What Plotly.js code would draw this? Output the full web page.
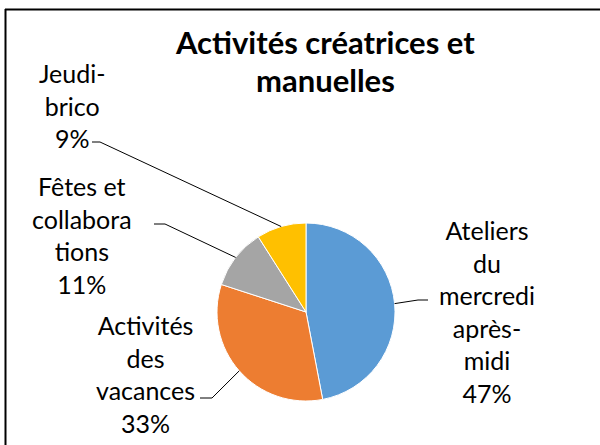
<!DOCTYPE html>
<html>
<head>
<meta charset="utf-8">
<script src="https://cdn.plot.ly/plotly-3.0.1.min.js"></script>
<style>
  body { margin: 0; background: #fff; }
  #chart { width: 600px; height: 445px; }
</style>
</head>
<body>
<div id="chart"></div>
<script>
/* =========================
   DATA
========================= */
const chartTitle = ["Activités créatrices et", "manuelles"];
const categories = ["Ateliers du mercredi après-midi", "Activités des vacances", "Fêtes et collaborations", "Jeudi-brico"];
const shares = [47, 33, 11, 9];
const labelTexts = [
  "Ateliers<br>du<br>mercredi<br>après-<br>midi<br>47%",
  "Activités<br>des<br>vacances<br>33%",
  "Fêtes et<br>collabora<br>tions<br>11%",
  "Jeudi-<br>brico<br>9%"
];
const colors = ["#5B9BD5", "#ED7D31", "#A5A5A5", "#FFC000"];

/* =========================
   LAYOUT HELPERS (pixels)
========================= */
const W = 600, H = 445;
const cx = 306, cy = 312, r = 89;
const px = x => x / W;
const py = y => 1 - y / H;
const FONT = "Lato, 'Open Sans', sans-serif";

// where each label block sits and where its leader line elbows
const labelPos = [
  { x: 487, y: 311, elbow: [[418, 300], [428, 300]] },
  { x: 145, y: 374, elbow: [[212, 398], [200, 398]] },
  { x: 82, y: 235, elbow: [[165, 224], [154, 224]] },
  { x: 72, y: 105, elbow: [[100, 142], [92, 142]] }
];

// slice mid-angles -> anchor points on the pie edge
const total = shares.reduce((a, b) => a + b, 0);
let cum = 0;
const anchors = shares.map(v => {
  const mid = (cum + v / 2) / total * 2 * Math.PI;
  cum += v;
  return [cx + r * Math.sin(mid), cy - r * Math.cos(mid)];
});

const shapes = anchors.map((a, i) => {
  const pts = [a, ...labelPos[i].elbow];
  const d = pts.map((p, k) => (k ? "L" : "M") + px(p[0]) + "," + py(p[1])).join(" ");
  return { type: "path", xref: "paper", yref: "paper", path: d, line: { color: "#000", width: 1 } };
});

// chart frame (only top and left edges visible)
shapes.push({ type: "line", xref: "paper", yref: "paper", x0: px(5), y0: py(9.5), x1: 1, y1: py(9.5), line: { color: "#000", width: 2 } });
shapes.push({ type: "line", xref: "paper", yref: "paper", x0: px(5.5), y0: py(9), x1: px(5.5), y1: 0, line: { color: "#000", width: 2 } });

const annotations = labelTexts.map((t, i) => ({
  xref: "paper", yref: "paper",
  x: px(labelPos[i].x), y: py(labelPos[i].y),
  xanchor: "center", yanchor: "middle",
  text: t, showarrow: false, align: "center",
  font: { family: FONT, size: 25, color: "#000" }
}));

// title, one annotation per line to match the wide line spacing
const titleY = [42, 80];
chartTitle.forEach((t, i) => annotations.push({
  xref: "paper", yref: "paper",
  x: px(325), y: py(titleY[i]),
  xanchor: "center", yanchor: "middle",
  text: "<b>" + t + "</b>", showarrow: false,
  font: { family: FONT, size: 31, color: "#000" }
}));

Plotly.newPlot("chart", [
  {
    type: "pie",
    labels: categories,
    values: shares,
    sort: false,
    direction: "clockwise",
    rotation: 0,
    textinfo: "none",
    hoverinfo: "none",
    marker: { colors: colors, line: { color: "#fff", width: 1 } },
    domain: { x: [px(cx - r), px(cx + r)], y: [py(cy + r), py(cy - r)] },
    showlegend: false
  }
], {
  width: W,
  height: H,
  margin: { t: 0, r: 0, b: 0, l: 0 },
  paper_bgcolor: "#fff",
  shapes: shapes,
  annotations: annotations
}, { displayModeBar: false, staticPlot: true });
</script>
</body>
</html>
